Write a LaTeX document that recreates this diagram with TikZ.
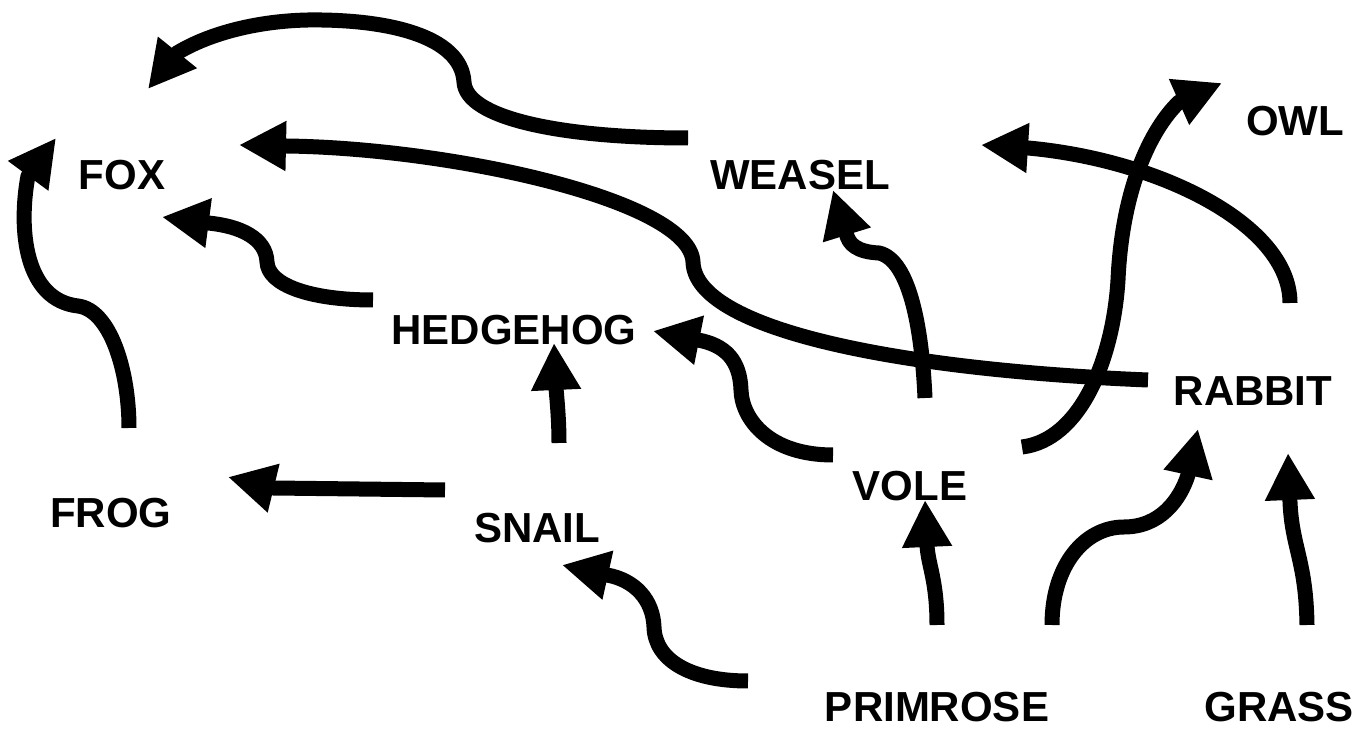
\documentclass[tikz,border=0pt]{standalone}
\usepackage{fontspec}
\setmainfont{Liberation Sans}
\usetikzlibrary{arrows.meta}
\begin{document}
\begin{tikzpicture}[x=0.5pt,y=-0.5pt,
  species/.style={font=\fontsize{21}{25}\selectfont\bfseries, inner sep=0pt},
  link/.style={line width=7.5pt, line join=round,
    -{Triangle[length=23.5pt,width=23.5pt]}}]
\useasboundingbox (0,0) rectangle (1366,731);

% species
\node[species] (fox)      at (122,175) {FOX};
\node[species] (weasel)   at (800,175) {WEASEL};
\node[species] (owl)      at (1295,121) {OWL};
\node[species] (hedgehog) at (514,330) {HEDGEHOG};
\node[species] (frog)     at (111,513) {FROG};
\node[species] (snail)    at (537,528) {SNAIL};
\node[species] (vole)     at (910,486) {VOLE};
\node[species] (rabbit)   at (1253,391) {RABBIT};
\node[species] (primrose) at (937,707) {PRIMROSE};
\node[species] (grass)    at (1279,707) {GRASS};

% ends of the feeding links: start near the prey, base and tip of the head near the predator
\coordinate (weasel-out) at (688,138); \coordinate (fox-in1b) at (177,53);  \coordinate (fox-in1) at (148,89);
\coordinate (rabbit-out1) at (1148,380); \coordinate (fox-in2b) at (286,146); \coordinate (fox-in2) at (239,145);
\coordinate (hedgehog-out) at (373,300); \coordinate (fox-in3b) at (208,223); \coordinate (fox-in3) at (162,217);
\coordinate (frog-out) at (129,428); \coordinate (fox-in4b) at (28,176); \coordinate (fox-in4) at (56,138);
\coordinate (rabbit-out2) at (1290,303); \coordinate (owl-in1b) at (1028,148); \coordinate (owl-in1) at (981,145);
\coordinate (vole-out1) at (1022,447); \coordinate (owl-in2b) at (1179,102); \coordinate (owl-in2) at (1222,83);
\coordinate (vole-out2) at (925,398); \coordinate (weasel-inb) at (846,232); \coordinate (weasel-in) at (833,190);
\coordinate (vole-out3) at (833,455); \coordinate (hedgehog-in1b) at (698,340); \coordinate (hedgehog-in1) at (653,331);
\coordinate (snail-out1) at (559,443); \coordinate (hedgehog-in2b) at (556,388); \coordinate (hedgehog-in2) at (554,343);
\coordinate (snail-out2) at (445,490); \coordinate (frog-inb) at (273,488); \coordinate (frog-in) at (228,477);
\coordinate (primrose-out1) at (748,681); \coordinate (snail-inb) at (607,575); \coordinate (snail-in) at (562,565);
\coordinate (primrose-out2) at (937,625); \coordinate (vole-inb) at (927,545); \coordinate (vole-in) at (925,500);
\coordinate (primrose-out3) at (1052,625); \coordinate (rabbit-in1b) at (1188,475); \coordinate (rabbit-in1) at (1198,429);
\coordinate (grass-out) at (1307,625); \coordinate (rabbit-in2b) at (1290,502); \coordinate (rabbit-in2) at (1288,453);

% links into the fox
\draw[link] (weasel-out) .. controls (560,138) and (466,118) .. (464,82)
  .. controls (461,35) and (385,19) .. (308,20)
  .. controls (258,21) and (210,33) .. (fox-in1b) -- (fox-in1);
\draw[link] (rabbit-out1) .. controls (900,370) and (695,330) .. (693,262)
  .. controls (690,200) and (450,148) .. (fox-in2b) -- (fox-in2);
\draw[link] (hedgehog-out) .. controls (310,300) and (268,285) .. (267,262)
  .. controls (266,238) and (240,226) .. (fox-in3b) -- (fox-in3);
\draw[link] (frog-out) .. controls (129,370) and (110,310) .. (78,306)
  .. controls (25,300) and (18,230) .. (fox-in4b) -- (fox-in4);

% links into the owl
\draw[link] (rabbit-out2) .. controls (1290,225) and (1160,160) .. (owl-in1b) -- (owl-in1);
\draw[link] (vole-out1) .. controls (1080,440) and (1113,360) .. (1118,280)
  .. controls (1122,190) and (1150,130) .. (owl-in2b) -- (owl-in2);

% link into the weasel
\draw[link] (vole-out2) .. controls (922,330) and (910,260) .. (879,253)
  .. controls (858,252) and (848,245) .. (weasel-inb) -- (weasel-in);

% links into the hedgehog
\draw[link] (vole-out3) .. controls (770,455) and (742,420) .. (741,390)
  .. controls (740,360) and (725,345) .. (hedgehog-in1b) -- (hedgehog-in1);
\draw[link] (snail-out1) .. controls (559,420) and (557,400) .. (hedgehog-in2b) -- (hedgehog-in2);

% link into the frog
\draw[link] (snail-out2) -- (frog-inb) -- (frog-in);

% links from the plants
\draw[link] (primrose-out1) .. controls (690,681) and (655,660) .. (654,627)
  .. controls (653,600) and (635,580) .. (snail-inb) -- (snail-in);
\draw[link] (primrose-out2) .. controls (937,580) and (928,565) .. (vole-inb) -- (vole-in);
\draw[link] (primrose-out3) .. controls (1052,565) and (1085,527) .. (1124,527)
  .. controls (1160,527) and (1180,500) .. (rabbit-in1b) -- (rabbit-in1);
\draw[link] (grass-out) .. controls (1306,560) and (1292,548) .. (rabbit-in2b) -- (rabbit-in2);
\end{tikzpicture}
\end{document}
